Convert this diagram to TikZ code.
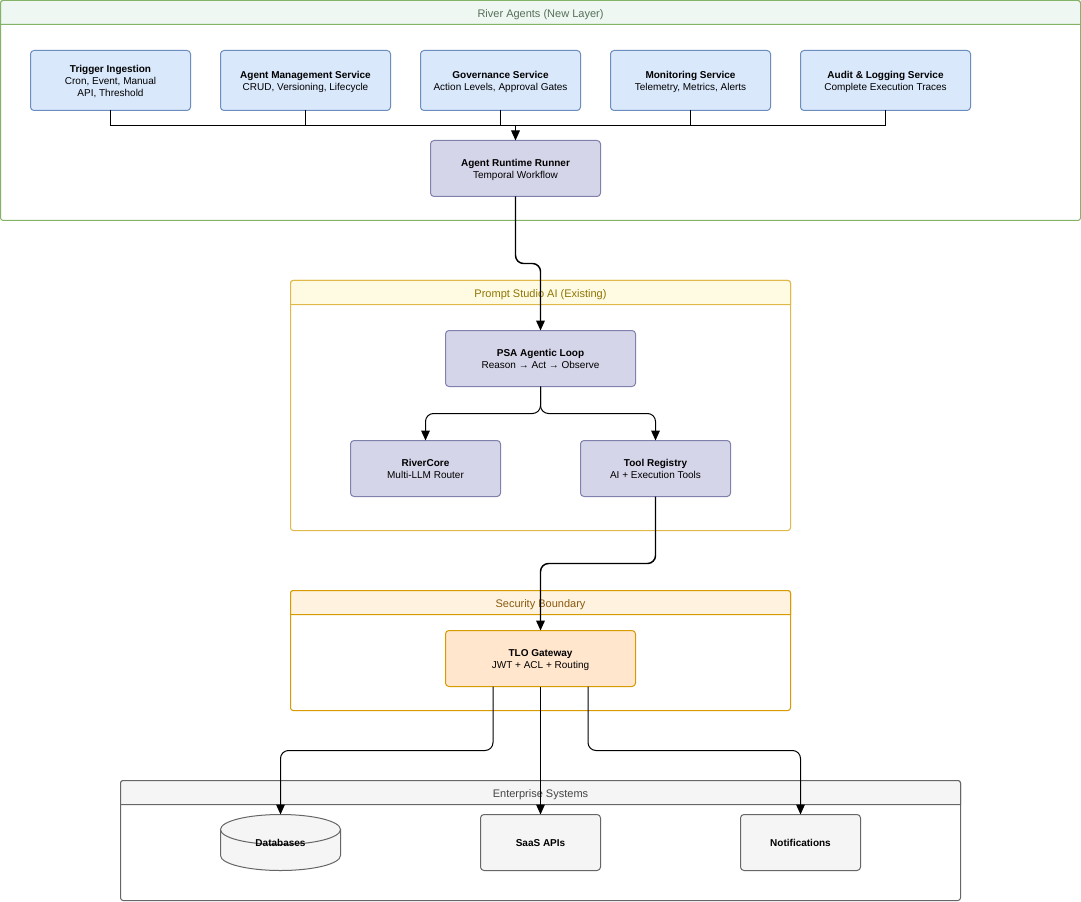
\documentclass[tikz,border=0pt]{standalone}
\usepackage{fontspec}
\setmainfont{Liberation Sans}
\usetikzlibrary{arrows.meta}
\definecolor{blueF}{HTML}{DAE8FC}\definecolor{blueS}{HTML}{6C8EBF}
\definecolor{purpF}{HTML}{D5D5E9}\definecolor{purpS}{HTML}{8080AC}
\definecolor{orgF}{HTML}{FFE6CC}\definecolor{orgS}{HTML}{D79B00}
\definecolor{greyF}{HTML}{F5F5F5}\definecolor{greyS}{HTML}{666666}
\definecolor{grnS}{HTML}{82B366}\definecolor{grnH}{HTML}{EEF7F1}\definecolor{grnT}{HTML}{56705A}
\definecolor{yelS}{HTML}{E0B94A}\definecolor{yelH}{HTML}{FFFBE3}\definecolor{yelT}{HTML}{8F7400}
\definecolor{secS}{HTML}{D79B00}\definecolor{secH}{HTML}{FFF2DE}\definecolor{secT}{HTML}{8A5A10}
\definecolor{entH}{HTML}{F5F5F5}\definecolor{entT}{HTML}{444444}
\newcommand{\st}{\vrule height 7pt depth 1pt width 0pt\relax}
\tikzset{
  x=0.75pt,y=-0.75pt,
  every node/.style={inner sep=0pt,outer sep=0pt,align=center,font=\fontsize{7.5}{9}\selectfont},
  card/.style={draw,rectangle,rounded corners=2.6pt,line width=0.75pt},
  bluebox/.style={card,fill=blueF,draw=blueS},
  purpbox/.style={card,fill=purpF,draw=purpS},
  orgbox/.style={card,fill=orgF,draw=orgS},
  greybox/.style={card,fill=greyF,draw=greyS},
  title/.style={font=\fontsize{8.25}{10}\selectfont},
  wire/.style={draw=black,line width=0.75pt},
  curvy/.style={wire,rounded corners=6pt},
  heavy/.style={curvy,line width=1.1pt},
  tipped/.style={-{Triangle[length=7.5pt,width=6.5pt]}}
}
\newcommand{\bx}[7]{\node[#2,minimum width={(#5-#3)*0.75pt},minimum height={(#6-#4)*0.75pt}] (#1) at ({(#3+#5)/2},{(#4+#6)/2}) {#7};}
\newcommand{\lane}[9]{%
  \filldraw[fill=white,draw=#6,line width=0.75pt,rounded corners=2pt] (#2,#3) rectangle (#4,#5);
  \filldraw[fill=#7,draw=#6,line width=0.75pt] (#2,#3+24) -- (#2,#3+2) [rounded corners=2pt] -- (#2,#3) -- (#4,#3) [sharp corners] -- (#4,#3+24) -- cycle;
  \node[title,text=#8] (#1) at ({(#2+#4)/2},#3+13) {\st #9};}
\begin{document}
\begin{tikzpicture}
\useasboundingbox (0,0) rectangle (1081,902);
\lane{river}{0.5}{0.5}{1080.5}{220.5}{grnS}{grnH}{grnT}{River Agents (New Layer)}
\lane{psaL}{290.5}{280.5}{790.5}{530.5}{yelS}{yelH}{yelT}{Prompt Studio AI (Existing)}
\lane{secL}{290.5}{590.5}{790.5}{710.5}{secS}{secH}{secT}{Security Boundary}
\lane{entL}{120.5}{780.5}{960.5}{900.5}{greyS}{entH}{entT}{Enterprise Systems}

\bx{trig}{bluebox}{30.5}{50.5}{190.5}{110.5}{\st\textbf{Trigger Ingestion}\\\st Cron, Event, Manual\\\st API, Threshold}
\bx{mgmt}{bluebox}{220.5}{50.5}{390.5}{110.5}{\st\textbf{Agent Management Service}\\\st CRUD, Versioning, Lifecycle}
\bx{gov}{bluebox}{420.5}{50.5}{580.5}{110.5}{\st\textbf{Governance Service}\\\st Action Levels, Approval Gates}
\bx{mon}{bluebox}{610.5}{50.5}{770.5}{110.5}{\st\textbf{Monitoring Service}\\\st Telemetry, Metrics, Alerts}
\bx{audit}{bluebox}{800.5}{50.5}{970.5}{110.5}{\st\textbf{Audit \& Logging Service}\\\st Complete Execution Traces}
\bx{run}{purpbox}{430.5}{140.5}{600.5}{196.5}{\st\textbf{Agent Runtime Runner}\\\st Temporal Workflow}
\bx{psa}{purpbox}{445.5}{330.5}{635.5}{386.5}{\st\textbf{PSA Agentic Loop}\\\st Reason → Act → Observe}
\bx{core}{purpbox}{350.5}{440.5}{500.5}{496.5}{\st\textbf{RiverCore}\\\st Multi-LLM Router}
\bx{tool}{purpbox}{580.5}{440.5}{730.5}{496.5}{\st\textbf{Tool Registry}\\\st AI + Execution Tools}
\bx{tlo}{orgbox}{445.5}{630.5}{635.5}{686.5}{\st\textbf{TLO Gateway}\\\st JWT + ACL + Routing}
\bx{saas}{greybox}{480.5}{814.5}{600.5}{870.5}{\st\textbf{SaaS APIs}}
\bx{notif}{greybox}{740.5}{814.5}{860.5}{870.5}{\st\textbf{Notifications}}
% cylinder
\filldraw[fill=greyF,draw=greyS,line width=0.75pt] (220.5,829.5) -- (220.5,855.5) arc[start angle=180,end angle=0,x radius=60,y radius=15] -- (340.5,829.5) -- cycle;
\filldraw[fill=greyF,draw=greyS,line width=0.75pt] (280.5,829.5) ellipse[x radius=60,y radius=15];
\node (db) at (280.5,842.5) {\st\textbf{Databases}};
\coordinate (dbtop) at (280.5,814.5);
\coordinate (tloA) at (493,686.5);
\coordinate (tloB) at (588,686.5);
\coordinate (bus) at (515.5,125.5);

% connectors
\draw[wire] (trig.south) |- (bus) -| (audit.south);
\draw[wire] (mgmt.south) -- (mgmt.south |- bus);
\draw[wire] (gov.south) -- (gov.south |- bus);
\draw[wire] (mon.south) -- (mon.south |- bus);
\draw[wire,tipped] (bus) -- (run.north);
\draw[heavy,tipped] (run.south) -- ++(0,67) -| (psa.north);
\draw[curvy,tipped] (psa.south) -- ++(0,27) -| (core.north);
\draw[curvy,tipped] (psa.south) -- ++(0,27) -| (tool.north);
\draw[heavy,tipped] (tool.south) -- ++(0,67) -| (tlo.north);
\draw[curvy,tipped] (tloA) -- ++(0,64) -| (dbtop);
\draw[wire,tipped] (tlo.south) -- (saas.north -| tlo.south);
\draw[curvy,tipped] (tloB) -- ++(0,64) -| (notif.north);
\end{tikzpicture}
\end{document}
